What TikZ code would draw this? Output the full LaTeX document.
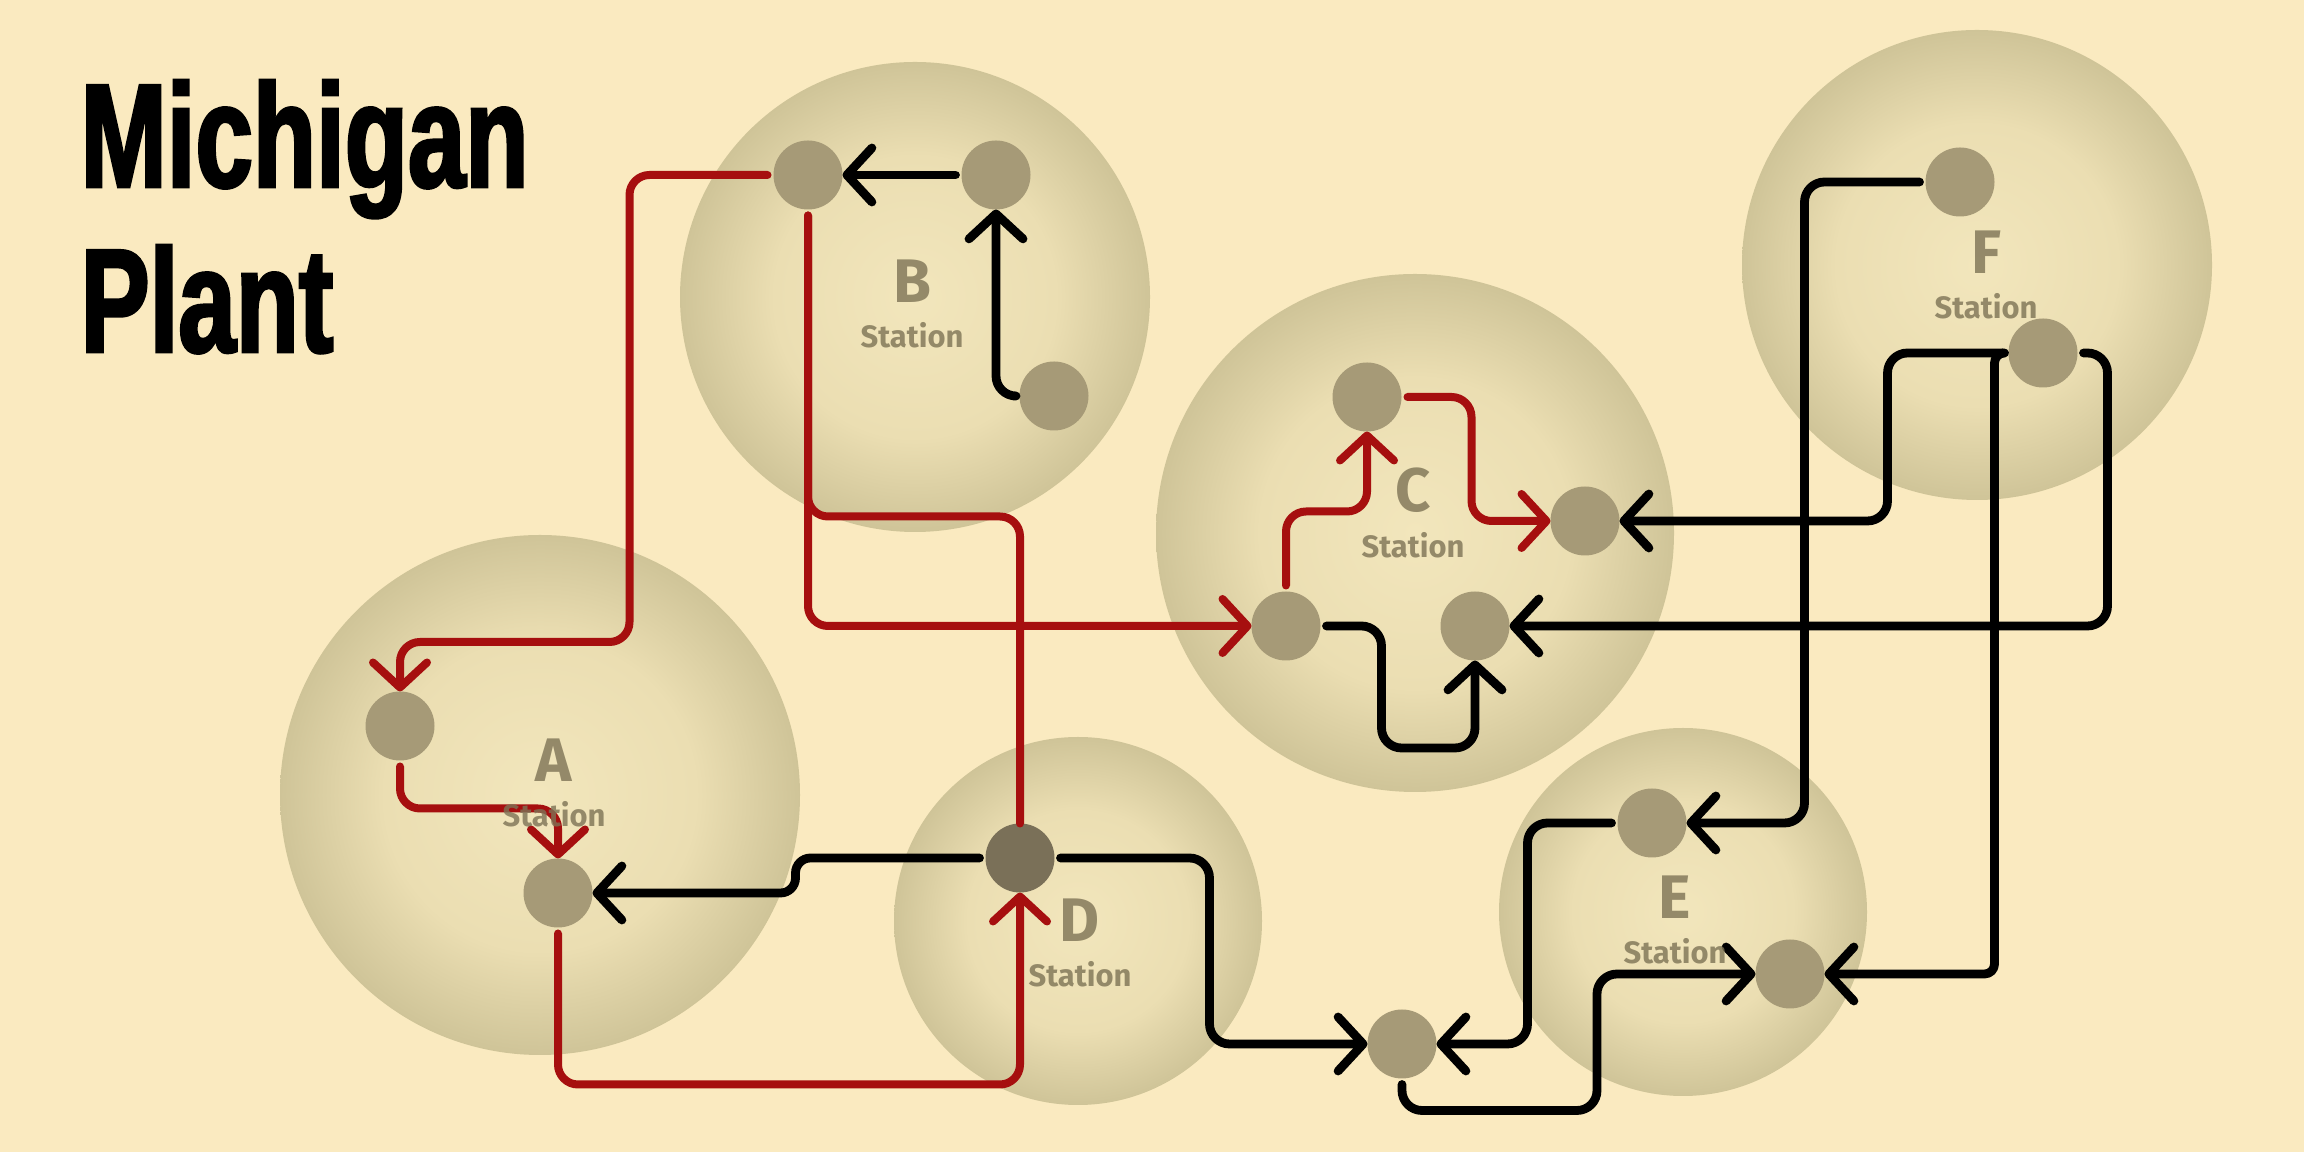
\documentclass[tikz,border=0pt]{standalone}
\usepackage{fontspec}
\setsansfont{Fira Sans}
\newfontfamily\titlefont[FakeStretch=0.7, FakeBold=2]{Liberation Sans}
\usetikzlibrary{arrows.meta, positioning}

\definecolor{plantcream}{RGB}{250,234,192}
\definecolor{zonein}{RGB}{242,230,188}
\definecolor{zonemid}{RGB}{235,222,178}
\definecolor{zoneout}{RGB}{207,196,152}
\definecolor{padfill}{RGB}{166,154,119}
\definecolor{padhub}{RGB}{122,112,88}
\definecolor{beltred}{RGB}{166,15,15}
\definecolor{tagcolor}{RGB}{125,115,85}

\pgfdeclareradialshading{zoneglow}{\pgfpoint{0bp}{0bp}}{color(0bp)=(zonein); color(15bp)=(zonemid); color(25bp)=(zoneout); color(50bp)=(zoneout)}

\tikzset{
    >=Latex,
    font=\sffamily,
    zone/.style={
        circle,
        shading=zoneglow,
        draw=none,
        inner sep=0pt
    },
    pad/.style={
        circle,
        fill=padfill,
        minimum size=6.9mm,
        inner sep=0pt,
        outer sep=0pt
    },
    pad_hub/.style={
        pad,
        fill=padhub
    },
    belt/.style={
        draw=black,
        line width=0.88mm,
        rounded corners=2mm,
        line cap=round,
        line join=round,
        shorten <=0.6mm
    },
    belt_red/.style={
        belt,
        draw=beltred,
        line width=0.8mm
    },
    feed/.style={
        -{Straight Barb[length=2.5mm, width=5.4mm, round]}
    },
    zone_key/.style={
        text=tagcolor,
        text opacity=0.8,
        inner sep=0pt,
        font=\sffamily\bfseries\fontsize{17.5}{20}\selectfont
    },
    zone_tag/.style={
        text=tagcolor,
        text opacity=0.8,
        inner sep=0pt,
        font=\sffamily\bfseries\fontsize{8.8}{10}\selectfont
    },
    plant_title/.style={
        anchor=base west,
        inner sep=0pt,
        font=\titlefont\bfseries\fontsize{42}{47}\selectfont
    }
}

\begin{document}
\begin{tikzpicture}[x=0.1mm, y=-0.1mm]
\useasboundingbox (0,0) rectangle (2304,1152);
\fill[plantcream] (0,0) rectangle (2304,1152);

% Station zones
\node[zone, minimum size=52mm] (zoneA) at (540,795) {};
\node[zone, minimum size=47mm] (zoneB) at (915,297) {};
\node[zone, minimum size=51.8mm] (zoneC) at (1415,533) {};
\node[zone, minimum size=36.8mm] (zoneD) at (1078,921) {};
\node[zone, minimum size=36.8mm] (zoneE) at (1683,912) {};
\node[zone, minimum size=47mm] (zoneF) at (1977,265) {};

% Title
\node[plant_title] (titleTop) at (80,187) {Michigan};
\node[plant_title] (titleBot) at (80,352) {Plant};

% Pads
\node[pad] (a1) at (400,726) {};
\node[pad] (a2) at (558,893) {};
\node[pad] (b1) at (808,175) {};
\node[pad] (b2) at (996,175) {};
\node[pad] (b3) at (1054,396) {};
\node[pad] (c1) at (1367,397) {};
\node[pad] (c2) at (1585,521) {};
\node[pad] (c3) at (1286,626) {};
\node[pad] (c4) at (1475,626) {};
\node[pad_hub] (d1) at (1020,858) {};
\node[pad] (e1) at (1652,823) {};
\node[pad] (e2) at (1790,974) {};
\node[pad] (f1) at (1960,182) {};
\node[pad] (f2) at (2043,353) {};
\node[pad] (hub) at (1402,1044) {};

% Black belts
\draw[belt, feed] (b2) -- (b1);
\draw[belt, feed] (b3.west) -| (b2.south);
\draw[belt, feed, rounded corners=1.5mm] (d1.west) -- ++(-190,0) |- (a2.east);
\draw[belt, feed] (d1.east) -- ++(155,0) |- (hub.west);
\draw[belt, feed] (c3.east) -- ++(61,0) -- ++(0,122) -| (c4.south);
\draw[belt, feed] (f2.west) -- ++(-121,0) |- (c2.east);
\draw[belt, feed] (f2.east) -- ++(30,0) |- (c4.east);
\draw[belt, feed, rounded corners=1mm] (f2.west) -- ++(-14,0) |- (e2.east);
\draw[belt, feed] (f1.west) -- ++(-121,0) |- (e1.east);
\draw[belt, feed] (e1.west) -- ++(-90,0) |- (hub.east);
\draw[belt, feed] (hub.south) -- ++(0,32) -- ++(195,0) |- (e2.west);

% Red belts
\draw[belt_red, feed] (b1.west) -- ++(-144,0) -- ++(0,467) -| (a1.north);
\draw[belt_red, feed] (b1.south) |- (c3.west);
\draw[belt_red] (b1.south) -- ++(0,307) -| (d1.north);
\draw[belt_red, feed] (a1.south) -- ++(0,48) -| (a2.north);
\draw[belt_red, feed] (a2.south) -- ++(0,157) -| (d1.south);
\draw[belt_red, feed] (c3.north) -- ++(0,-80) -| (c1.south);
\draw[belt_red, feed] (c1.east) -- ++(70,0) |- (c2.west);

% Station labels
\node[zone_key] (keyA) at (554,760) {A};
\node[zone_tag, below=1.9mm of keyA] (tagA) {Station};
\node[zone_key] (keyB) at (912,281) {B};
\node[zone_tag, below=1.9mm of keyB] (tagB) {Station};
\node[zone_key] (keyC) at (1413,490) {C};
\node[zone_tag, below=1.9mm of keyC] (tagC) {Station};
\node[zone_key] (keyD) at (1080,920) {D};
\node[zone_tag, below=1.9mm of keyD] (tagD) {Station};
\node[zone_key] (keyE) at (1675,897) {E};
\node[zone_tag, below=1.9mm of keyE] (tagE) {Station};
\node[zone_key] (keyF) at (1986,252) {F};
\node[zone_tag, below=1.9mm of keyF] (tagF) {Station};

\end{tikzpicture}
\end{document}
